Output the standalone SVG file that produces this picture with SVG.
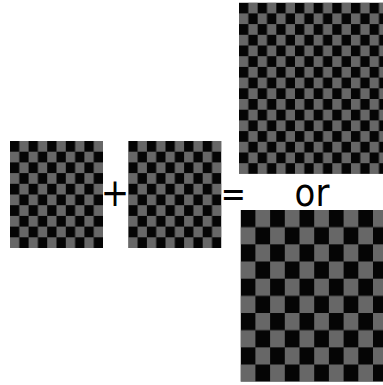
<svg xmlns="http://www.w3.org/2000/svg" width="383" height="385" viewBox="0 0 383 385">
<style>
.sym{font-family:"DejaVu Sans",sans-serif;font-size:34px;fill:#000;text-anchor:middle}
.g{fill:#676767}
.b{fill:#050505}
</style>
<defs>
<pattern id="pL" patternUnits="userSpaceOnUse" x="10" y="141" width="18.6" height="21.4">
<rect class="g" width="18.6" height="21.4"/>
<rect class="b" width="9.3" height="10.7"/>
<rect class="b" x="9.3" y="10.7" width="9.3" height="10.7"/>
</pattern>
<pattern id="pM" patternUnits="userSpaceOnUse" x="128.3" y="141" width="18.6" height="21.4">
<rect class="g" width="18.6" height="21.4"/>
<rect class="b" width="9.3" height="10.7"/>
<rect class="b" x="9.3" y="10.7" width="9.3" height="10.7"/>
</pattern>
<pattern id="pT" patternUnits="userSpaceOnUse" x="239" y="2.7" width="18.66" height="21.4">
<rect class="g" width="18.66" height="21.4"/>
<rect class="b" width="9.33" height="10.7"/>
<rect class="b" x="9.33" y="10.7" width="9.33" height="10.7"/>
</pattern>
<pattern id="pB" patternUnits="userSpaceOnUse" x="240.7" y="210" width="29.4" height="34.34">
<rect class="g" width="29.4" height="34.34"/>
<rect class="b" width="14.7" height="17.17"/>
<rect class="b" x="14.7" y="17.17" width="14.7" height="17.17"/>
</pattern>
</defs>
<rect width="383" height="385" fill="#fff"/>
<g id="board-left"><rect x="10" y="141" width="93" height="107" fill="url(#pL)"/></g>
<g id="board-middle"><rect x="128.3" y="141" width="93" height="107" fill="url(#pM)"/></g>
<g id="board-top-right"><rect x="239" y="2.7" width="144" height="171.2" fill="url(#pT)"/></g>
<g id="board-bottom-right"><rect x="240.7" y="210" width="142.3" height="171.7" fill="url(#pB)"/></g>
<g id="plus"><text class="sym" transform="translate(115,205.5) scale(1,1.16)">+</text></g>
<g id="equals"><text class="sym" style="font-size:30px" transform="translate(233.3,205.5) scale(1,1.16)">=</text></g>
<g id="or"><text class="sym" transform="translate(312,205.5) scale(1,1.16)">or</text></g>
</svg>
